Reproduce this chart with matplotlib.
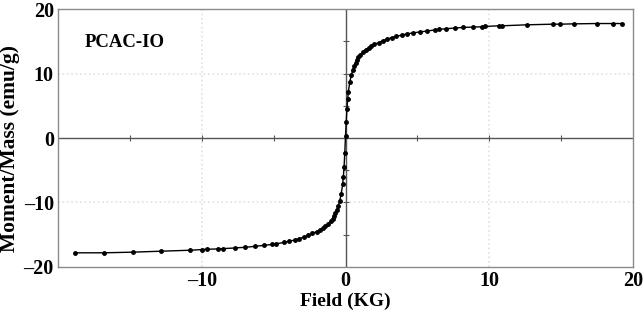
import matplotlib
matplotlib.use("Agg")
import matplotlib.pyplot as plt
import numpy as np

# field (KG) and moment/mass (emu/g)
field_pos = [0.0, 0.05, 0.1, 0.15, 0.2, 0.3, 0.4, 0.5, 0.6, 0.7, 0.8, 0.9, 1.0,
             1.2, 1.4, 1.6, 1.8, 2.0, 2.3, 2.6, 2.9, 3.2, 3.5, 3.9, 4.3, 4.7,
             5.2, 5.7, 6.2, 6.5, 7.0, 7.6, 8.2, 8.9, 9.5, 9.7, 10.7, 10.9,
             12.6, 14.4, 14.9, 15.9, 17.5, 18.6, 19.2]
moment_pos = [0.3, 2.5, 4.5, 6.0, 7.2, 8.7, 9.7, 10.5, 11.1, 11.6, 12.1, 12.5, 12.8,
              13.3, 13.7, 14.0, 14.3, 14.5, 14.8, 15.1, 15.35, 15.55, 15.75, 15.95, 16.15, 16.3,
              16.45, 16.6, 16.75, 16.85, 16.95, 17.05, 17.15, 17.2, 17.25, 17.3, 17.4, 17.4,
              17.55, 17.65, 17.65, 17.7, 17.75, 17.75, 17.75]
field_neg = [-18.8, -16.8, -14.8, -12.8, -10.8, -10.0, -9.6, -8.9, -8.5, -7.7, -7.0,
             -6.3, -5.7, -5.1, -4.8, -4.3, -3.9, -3.5, -3.2, -2.9, -2.6, -2.3, -2.0,
             -1.8, -1.6, -1.4, -1.2, -1.0, -0.9, -0.8, -0.7, -0.6, -0.5, -0.4,
             -0.3, -0.2, -0.15, -0.1, -0.05]
moment_neg = [-17.8, -17.8, -17.7, -17.55, -17.4, -17.3, -17.25, -17.2, -17.15, -17.05, -16.95,
              -16.8, -16.65, -16.5, -16.4, -16.2, -16.0, -15.8, -15.6, -15.35, -15.1, -14.8, -14.5,
              -14.3, -14.0, -13.7, -13.3, -12.8, -12.5, -12.1, -11.6, -11.1, -10.5, -9.7,
              -8.7, -7.2, -6.0, -4.5, -2.3]

field = np.array(field_neg + field_pos)
moment = np.array(moment_neg + moment_pos)

plt.rcParams['font.family'] = 'Liberation Serif'
plt.rcParams['font.weight'] = 'bold'

fig = plt.figure(figsize=(6.44, 3.11), dpi=100)
ax = fig.add_axes([0.090, 0.1415, 0.893, 0.8295])

ax.set_xlim(-20, 20)
ax.set_ylim(-20, 20)
ax.set_xticks([-10, 0, 10, 20])
ax.set_yticks([-20, -10, 0, 10, 20])
ax.set_xticklabels(['\u201310', '0', '10', '20'])
ax.set_yticklabels(['\u201320', '\u201310', '0', '10', '20'])
ax.tick_params(length=0, labelsize=14.5, pad=3)
for lab in ax.get_xticklabels() + ax.get_yticklabels():
    lab.set_fontweight('bold')

for s in ax.spines.values():
    s.set_color('#8a8a8a')
    s.set_linewidth(1.0)

# light dotted grid
for v in [-10, 10]:
    ax.axvline(v, color='#e2e2e2', ls=':', lw=1.2, zorder=0)
    ax.axhline(v, color='#e2e2e2', ls=':', lw=1.2, zorder=0)

# zero axes with small ticks
ax.axhline(0, color='#555555', lw=1.0, zorder=1)
ax.axvline(0, color='#555555', lw=1.0, zorder=1)
tk = [-15, -10, -5, 5, 10, 15]
ax.plot(tk, [0] * len(tk), ls='none', marker='|', ms=4, color='#555555', mew=0.8)
ax.plot([0] * len(tk), tk, ls='none', marker='_', ms=4, color='#555555', mew=0.8)

ax.plot(field, moment, color='black', lw=1.0, marker='o', ms=2.5, zorder=3)

ax.text(0.047, 0.87, 'PCAC-IO', transform=ax.transAxes, fontsize=13.5,
        fontweight='bold', va='center', ha='left')

ax.set_xlabel('Field (KG)', fontsize=14, fontweight='bold', labelpad=1)
ax.set_ylabel('Moment/Mass (emu/g)', fontsize=15.5, fontweight='bold')
ax.yaxis.set_label_coords(-0.066, 0.46)

fig.savefig('out.png', dpi=100)
